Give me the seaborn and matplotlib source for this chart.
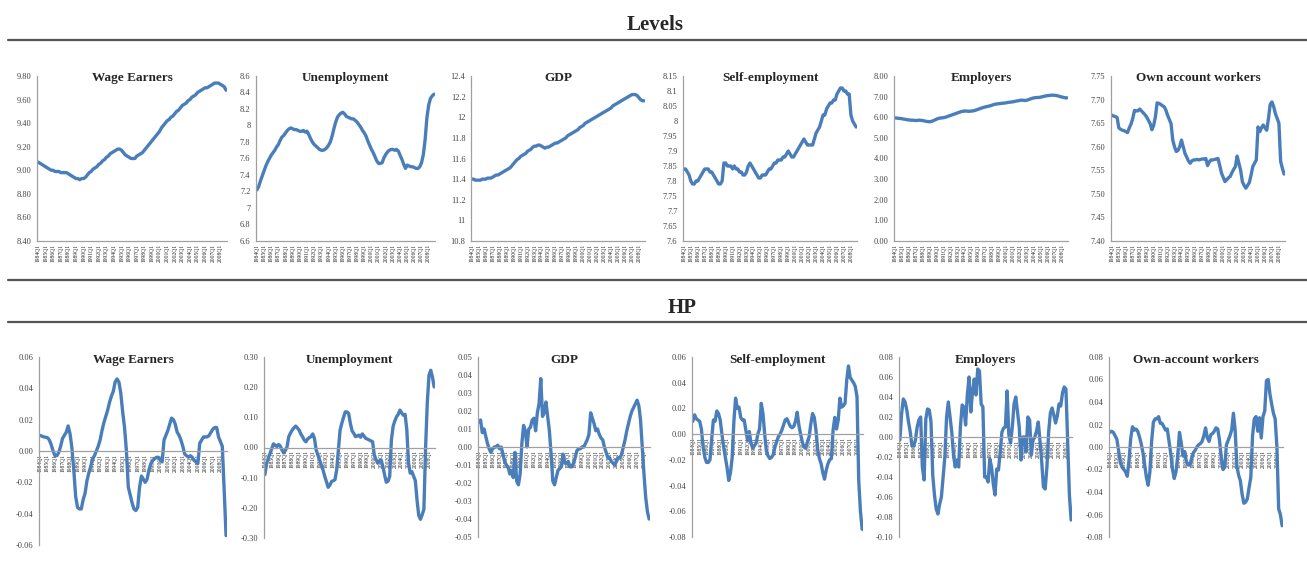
import numpy as np
import matplotlib
matplotlib.use("Agg")
import matplotlib.pyplot as plt
from matplotlib.lines import Line2D
from matplotlib.ticker import FuncFormatter
import seaborn as sns

# quarterly categories on the x axis
quarters = [f"{y}Q{q}" for y in range(1984, 2009) for q in range(1, 5)]

## Levels (log) ##
wage_lvl = [9.07, 9.06, 9.05, 9.04, 9.03, 9.02, 9.01, 9.00, 9.00, 8.99,
            8.99, 8.99, 8.98, 8.98, 8.98, 8.98, 8.97, 8.96, 8.95, 8.94,
            8.93, 8.93, 8.92, 8.93, 8.93, 8.94, 8.96, 8.98, 8.99, 9.01,
            9.02, 9.03, 9.05, 9.06, 9.08, 9.09, 9.11, 9.12, 9.14, 9.15,
            9.16, 9.17, 9.18, 9.18, 9.17, 9.15, 9.13, 9.12, 9.11, 9.10,
            9.10, 9.10, 9.12, 9.13, 9.14, 9.15, 9.17, 9.19, 9.21, 9.23,
            9.25, 9.27, 9.29, 9.31, 9.33, 9.36, 9.38, 9.40, 9.42, 9.43,
            9.45, 9.46, 9.48, 9.50, 9.51, 9.53, 9.55, 9.56, 9.57, 9.59,
            9.60, 9.62, 9.63, 9.64, 9.66, 9.67, 9.68, 9.69, 9.70, 9.70,
            9.71, 9.72, 9.73, 9.74, 9.74, 9.74, 9.73, 9.72, 9.71, 9.68]

unemp_lvl = [7.22, 7.26, 7.33, 7.39, 7.45, 7.51, 7.56, 7.60, 7.64, 7.67,
             7.70, 7.74, 7.77, 7.82, 7.86, 7.88, 7.91, 7.94, 7.96, 7.97,
             7.96, 7.95, 7.95, 7.94, 7.93, 7.93, 7.94, 7.92, 7.93, 7.89,
             7.84, 7.80, 7.77, 7.75, 7.73, 7.71, 7.70, 7.70, 7.71, 7.73,
             7.76, 7.80, 7.87, 7.96, 8.04, 8.10, 8.13, 8.15, 8.16, 8.14,
             8.11, 8.10, 8.09, 8.08, 8.08, 8.06, 8.04, 8.01, 7.98, 7.94,
             7.91, 7.87, 7.81, 7.76, 7.71, 7.67, 7.62, 7.57, 7.54, 7.54,
             7.55, 7.61, 7.65, 7.68, 7.70, 7.71, 7.71, 7.70, 7.71, 7.69,
             7.64, 7.59, 7.53, 7.48, 7.52, 7.51, 7.50, 7.50, 7.49, 7.48,
             7.48, 7.50, 7.55, 7.65, 7.83, 8.10, 8.25, 8.33, 8.36, 8.38]

gdp_lvl = [11.40, 11.40, 11.39, 11.39, 11.39, 11.39, 11.40, 11.40, 11.40, 11.41,
           11.41, 11.41, 11.42, 11.43, 11.44, 11.44, 11.45, 11.46, 11.47, 11.48,
           11.49, 11.50, 11.51, 11.53, 11.55, 11.57, 11.59, 11.60, 11.62, 11.63,
           11.64, 11.65, 11.67, 11.68, 11.69, 11.71, 11.72, 11.72, 11.73, 11.73,
           11.72, 11.71, 11.70, 11.71, 11.71, 11.72, 11.73, 11.74, 11.75, 11.75,
           11.76, 11.77, 11.78, 11.79, 11.80, 11.82, 11.83, 11.84, 11.85, 11.86,
           11.87, 11.88, 11.90, 11.91, 11.92, 11.94, 11.95, 11.96, 11.97, 11.98,
           11.99, 12.00, 12.01, 12.02, 12.03, 12.04, 12.05, 12.06, 12.07, 12.08,
           12.09, 12.11, 12.12, 12.13, 12.14, 12.15, 12.16, 12.17, 12.18, 12.19,
           12.20, 12.21, 12.22, 12.22, 12.22, 12.21, 12.19, 12.17, 12.16, 12.16]

self_lvl = [7.84, 7.84, 7.83, 7.82, 7.80, 7.79, 7.79, 7.80, 7.80, 7.81,
            7.82, 7.83, 7.84, 7.84, 7.84, 7.83, 7.83, 7.82, 7.81, 7.80,
            7.79, 7.79, 7.80, 7.86, 7.86, 7.85, 7.85, 7.85, 7.84, 7.85,
            7.84, 7.84, 7.83, 7.83, 7.82, 7.82, 7.83, 7.85, 7.86, 7.85,
            7.84, 7.83, 7.82, 7.81, 7.81, 7.82, 7.82, 7.82, 7.83, 7.84,
            7.84, 7.85, 7.86, 7.86, 7.87, 7.87, 7.87, 7.88, 7.88, 7.89,
            7.90, 7.89, 7.88, 7.88, 7.89, 7.90, 7.91, 7.92, 7.93, 7.94,
            7.93, 7.92, 7.92, 7.92, 7.92, 7.94, 7.96, 7.97, 7.98, 8.00,
            8.02, 8.02, 8.04, 8.05, 8.06, 8.06, 8.07, 8.07, 8.09, 8.10,
            8.11, 8.11, 8.10, 8.10, 8.09, 8.09, 8.02, 8.00, 7.99, 7.98]

empl_lvl = [5.97, 5.96, 5.95, 5.94, 5.93, 5.91, 5.90, 5.88, 5.87, 5.86,
            5.86, 5.85, 5.84, 5.85, 5.86, 5.85, 5.84, 5.82, 5.80, 5.79,
            5.78, 5.80, 5.83, 5.87, 5.91, 5.94, 5.96, 5.97, 5.98, 6.00,
            6.03, 6.06, 6.09, 6.12, 6.15, 6.18, 6.21, 6.24, 6.27, 6.29,
            6.30, 6.30, 6.29, 6.29, 6.30, 6.31, 6.33, 6.36, 6.39, 6.42,
            6.45, 6.48, 6.50, 6.52, 6.54, 6.56, 6.59, 6.62, 6.64, 6.65,
            6.66, 6.67, 6.68, 6.69, 6.70, 6.72, 6.73, 6.74, 6.75, 6.77,
            6.79, 6.80, 6.82, 6.83, 6.82, 6.81, 6.83, 6.86, 6.89, 6.92,
            6.94, 6.95, 6.96, 6.96, 6.98, 7.00, 7.02, 7.04, 7.05, 7.06,
            7.07, 7.07, 7.06, 7.05, 7.03, 7.00, 6.98, 6.96, 6.94, 6.94]

own_lvl = [7.667, 7.665, 7.664, 7.662, 7.640, 7.637, 7.635, 7.634, 7.632, 7.630,
           7.640, 7.648, 7.660, 7.677, 7.676, 7.676, 7.680, 7.676, 7.672, 7.668,
           7.663, 7.656, 7.649, 7.636, 7.645, 7.663, 7.693, 7.692, 7.690, 7.687,
           7.685, 7.678, 7.667, 7.658, 7.649, 7.614, 7.600, 7.590, 7.592, 7.600,
           7.614, 7.600, 7.586, 7.578, 7.570, 7.565, 7.570, 7.572, 7.572, 7.573,
           7.572, 7.573, 7.574, 7.574, 7.575, 7.560, 7.568, 7.572, 7.572, 7.573,
           7.574, 7.575, 7.560, 7.544, 7.535, 7.526, 7.530, 7.534, 7.537, 7.545,
           7.552, 7.558, 7.580, 7.565, 7.550, 7.526, 7.518, 7.512, 7.518, 7.524,
           7.540, 7.558, 7.565, 7.572, 7.642, 7.632, 7.640, 7.646, 7.640, 7.635,
           7.660, 7.690, 7.695, 7.685, 7.670, 7.660, 7.650, 7.569, 7.554, 7.542]

## HP filtered cycles ##
wage_hp = [0.010, 0.0095, 0.009, 0.0088, 0.0085, 0.007, 0.004, 0.000, -0.003, -0.003,
           -0.001, 0.003, 0.008, 0.010, 0.012, 0.016, 0.011, 0.002, -0.012, -0.029,
           -0.036, -0.037, -0.037, -0.031, -0.027, -0.019, -0.014, -0.010, -0.005, -0.003,
           0.000, 0.003, 0.007, 0.013, 0.018, 0.022, 0.026, 0.031, 0.035, 0.038,
           0.044, 0.046, 0.044, 0.037, 0.025, 0.015, 0.000, -0.023, -0.028, -0.033,
           -0.037, -0.038, -0.036, -0.023, -0.016, -0.018, -0.020, -0.018, -0.012, -0.008,
           -0.006, -0.005, -0.004, -0.004, -0.006, -0.007, 0.007, 0.010, 0.013, 0.017,
           0.021, 0.020, 0.017, 0.012, 0.010, 0.007, 0.003, -0.002, -0.003, -0.004,
           -0.003, -0.004, -0.006, -0.007, -0.008, 0.005, 0.007, 0.009, 0.009, 0.009,
           0.010, 0.012, 0.014, 0.015, 0.015, 0.009, 0.006, 0.003, -0.025, -0.054]

unemp_hp = [-0.090, -0.055, -0.035, -0.020, -0.005, 0.012, 0.008, 0.003, 0.010, 0.005,
            -0.008, -0.018, -0.010, 0.003, 0.036, 0.048, 0.058, 0.065, 0.071, 0.065,
            0.058, 0.045, 0.036, 0.025, 0.019, 0.028, 0.033, 0.036, 0.045, 0.030,
            -0.008, -0.025, -0.041, -0.058, -0.074, -0.095, -0.113, -0.132, -0.125, -0.113,
            -0.110, -0.107, -0.074, -0.008, 0.058, 0.080, 0.100, 0.118, 0.118, 0.113,
            0.080, 0.055, 0.047, 0.036, 0.038, 0.041, 0.034, 0.045, 0.038, 0.030,
            0.028, 0.025, 0.022, 0.019, -0.025, -0.040, -0.052, -0.045, -0.041, -0.063,
            -0.090, -0.115, -0.112, -0.096, 0.025, 0.070, 0.088, 0.102, 0.110, 0.124,
            0.115, 0.107, 0.110, 0.060, -0.050, -0.085, -0.080, -0.095, -0.110, -0.175,
            -0.225, -0.238, -0.223, -0.205, 0.000, 0.150, 0.240, 0.256, 0.234, 0.201]

gdp_hp = [0.014, 0.015, 0.008, 0.010, 0.006, 0.002, -0.001, -0.003, -0.001, 0.000,
          0.000, 0.001, -0.001, 0.000, -0.004, -0.008, -0.010, -0.011, -0.015, -0.013,
          -0.017, -0.003, -0.019, -0.021, -0.015, 0.002, 0.012, 0.009, 0.000, 0.010,
          0.011, 0.015, 0.016, 0.009, 0.019, 0.024, 0.038, 0.017, 0.019, 0.025,
          0.017, 0.009, -0.004, -0.019, -0.021, -0.017, -0.013, -0.012, -0.011, -0.004,
          -0.009, -0.009, -0.008, -0.011, -0.011, -0.009, -0.006, -0.002, -0.001, -0.001,
          0.000, 0.000, 0.002, 0.004, 0.007, 0.019, 0.016, 0.013, 0.009, 0.010,
          0.007, 0.005, 0.004, 0.000, -0.003, -0.006, -0.006, -0.008, -0.009, -0.010,
          -0.008, -0.006, -0.006, -0.004, 0.000, 0.004, 0.009, 0.013, 0.017, 0.020,
          0.022, 0.024, 0.026, 0.023, 0.015, 0.000, -0.015, -0.028, -0.036, -0.040]

self_hp = [0.010, 0.015, 0.012, 0.011, 0.010, 0.004, -0.010, -0.018, -0.022, -0.022,
           -0.020, -0.004, 0.011, 0.010, 0.018, 0.016, 0.011, 0.000, -0.010, -0.018,
           -0.026, -0.036, -0.030, -0.018, 0.010, 0.028, 0.020, 0.021, 0.013, 0.011,
           0.011, 0.003, -0.005, 0.002, -0.007, -0.011, -0.009, -0.007, 0.000, 0.004,
           0.024, 0.016, 0.000, -0.013, -0.017, -0.019, -0.018, -0.016, -0.010, -0.006,
           -0.002, 0.000, 0.003, 0.007, 0.011, 0.012, 0.009, 0.006, 0.005, 0.006,
           0.010, 0.017, 0.007, 0.000, -0.006, -0.010, -0.011, -0.006, -0.002, 0.008,
           0.016, 0.013, 0.003, -0.012, -0.019, -0.023, -0.030, -0.035, -0.028, -0.023,
           -0.020, -0.019, 0.003, 0.013, 0.004, 0.011, 0.028, 0.021, 0.022, 0.024,
           0.042, 0.053, 0.044, 0.042, 0.040, 0.037, 0.029, -0.036, -0.060, -0.074]

empl_hp = [-0.003, 0.023, 0.038, 0.035, 0.027, 0.015, 0.005, -0.009, -0.009, -0.003,
           0.010, 0.017, 0.020, -0.030, -0.043, 0.018, 0.028, 0.027, 0.015, -0.038,
           -0.058, -0.072, -0.077, -0.067, -0.060, -0.040, -0.020, 0.020, 0.035, 0.020,
           0.005, -0.018, -0.030, -0.023, -0.030, 0.010, 0.032, 0.030, 0.012, 0.042,
           0.060, 0.025, 0.045, 0.058, 0.042, 0.068, 0.066, 0.033, 0.030, -0.040,
           -0.040, -0.045, -0.022, -0.030, -0.047, -0.058, -0.032, -0.033, -0.015, 0.005,
           0.009, 0.010, 0.046, 0.002, -0.006, 0.010, 0.033, 0.040, 0.025, 0.010,
           -0.023, 0.000, 0.000, -0.015, 0.020, 0.017, -0.018, -0.003, 0.000, 0.006,
           0.015, -0.004, -0.025, -0.050, -0.052, -0.030, 0.005, 0.024, 0.029, 0.022,
           0.014, 0.021, 0.033, 0.031, 0.044, 0.050, 0.048, -0.005, -0.058, -0.083]

own_hp = [0.013, 0.014, 0.013, 0.010, 0.007, -0.003, -0.014, -0.018, -0.020, -0.022,
          -0.026, -0.012, 0.008, 0.018, 0.015, 0.016, 0.014, 0.009, 0.003, -0.005,
          -0.016, -0.027, -0.034, -0.022, 0.005, 0.022, 0.025, 0.025, 0.027, 0.021,
          0.021, 0.018, 0.015, 0.016, 0.005, -0.006, -0.020, -0.028, -0.022, -0.008,
          0.013, 0.004, -0.008, -0.004, -0.013, -0.016, -0.016, -0.010, -0.005, -0.003,
          0.000, 0.002, 0.003, 0.005, 0.010, 0.017, 0.008, 0.005, 0.011, 0.012,
          0.014, 0.017, 0.016, 0.006, -0.009, -0.020, -0.018, 0.002, 0.006, 0.010,
          0.015, 0.030, 0.015, -0.017, -0.025, -0.030, -0.042, -0.050, -0.049, -0.046,
          -0.036, -0.027, 0.010, 0.025, 0.027, 0.014, 0.026, 0.008, 0.027, 0.032,
          0.059, 0.060, 0.047, 0.038, 0.030, 0.025, 0.000, -0.055, -0.060, -0.070]

level_titles = ["Wage Earners", "Unemployment", "GDP", "Self-employment",
                "Employers", "Own account workers"]
hp_titles = ["Wage Earners", "Unemployment", "GDP", "Self-employment",
             "Employers", "Own-account workers"]

sns.set_style("white")
plt.rcParams["font.family"] = ["Liberation Serif", "DejaVu Serif"]

W, H = 1307, 568
fig = plt.figure(figsize=(W / 100, H / 100), dpi=100)
blue = "#4a7ebb"
x = np.arange(len(quarters))


def box(l, t, r, b):
    # pixel box -> figure fraction
    return [l / W, 1 - b / H, (r - l) / W, (b - t) / H]


def fmt_general(v, pos):
    return "%g" % round(v, 4)


def fmt_two(v, pos):
    return "%.2f" % v


# (series, ymin, ymax, step, formatter, pixel box)
top = [
    (wage_lvl, 8.4, 9.8, 0.2, fmt_two, (37, 76, 227, 241)),
    (unemp_lvl, 6.6, 8.6, 0.2, fmt_general, (256, 76, 435, 241)),
    (gdp_lvl, 10.8, 12.4, 0.2, fmt_general, (471, 76, 645, 241)),
    (self_lvl, 7.6, 8.15, 0.05, fmt_general, (683, 76, 857, 241)),
    (empl_lvl, 0.0, 8.0, 1.0, fmt_two, (894, 76, 1068, 241)),
    (own_lvl, 7.40, 7.75, 0.05, fmt_two, (1111, 76, 1285, 241)),
]
bottom = [
    (wage_hp, -0.06, 0.06, 0.02, fmt_two, (39, 357, 227, 545)),
    (unemp_hp, -0.30, 0.30, 0.10, fmt_two, (264, 357, 435, 538)),
    (gdp_hp, -0.05, 0.05, 0.01, fmt_two, (478, 357, 650, 537)),
    (self_hp, -0.08, 0.06, 0.02, fmt_two, (692, 357, 863, 537)),
    (empl_hp, -0.10, 0.08, 0.02, fmt_two, (899, 357, 1072, 537)),
    (own_hp, -0.08, 0.08, 0.02, fmt_two, (1109, 357, 1283, 537)),
]

for row, titles, is_hp in [(top, level_titles, False), (bottom, hp_titles, True)]:
    for (vals, lo, hi, step, fmt, pix), title in zip(row, titles):
        ax = fig.add_axes(box(*pix))
        sns.lineplot(x=x, y=vals, ax=ax, color=blue, lw=2.4)
        # HP panels: category axis crosses at zero (set before tick styling,
        # moving the spine resets the ticks)
        if is_hp:
            ax.spines["bottom"].set_position(("data", 0))
        ax.set_xlim(-0.5, len(quarters) - 0.5)
        ax.set_ylim(lo, hi)
        ax.set_yticks(np.arange(lo, hi + step / 2, step))
        ax.yaxis.set_major_formatter(FuncFormatter(fmt))
        ax.set_xticks(x[::4])
        ax.set_xticklabels(quarters[::4], rotation=90, fontsize=4, color="#222")
        ax.tick_params(axis="y", labelsize=6, colors="#444", length=0, pad=4)
        ax.tick_params(axis="x", length=0, pad=2)
        for s in ["top", "right"]:
            ax.spines[s].set_visible(False)
        ax.spines["left"].set_color("#a0a0a0")
        ax.spines["left"].set_linewidth(0.9)
        ax.spines["bottom"].set_color("#a0a0a0")
        ax.spines["bottom"].set_linewidth(0.9)
        ax.set_xlabel("")
        ax.set_ylabel("")
        ax.text(0.5, 0.99 if not is_hp else 0.985, title, transform=ax.transAxes,
                ha="center", va="center", fontsize=9.5, fontweight="bold")

# section headers and rules
fig.text(655 / W, 1 - 25 / H, "Levels", ha="center", va="center",
         fontsize=15, fontweight="bold")
fig.text(682 / W, 1 - 308 / H, "HP", ha="center", va="center",
         fontsize=15, fontweight="bold")
for yy in [40, 280, 322]:
    fig.add_artist(Line2D([8 / W, 1.0], [1 - yy / H, 1 - yy / H],
                          color="#555555", lw=1.6))

fig.savefig("out.png", dpi=100)
